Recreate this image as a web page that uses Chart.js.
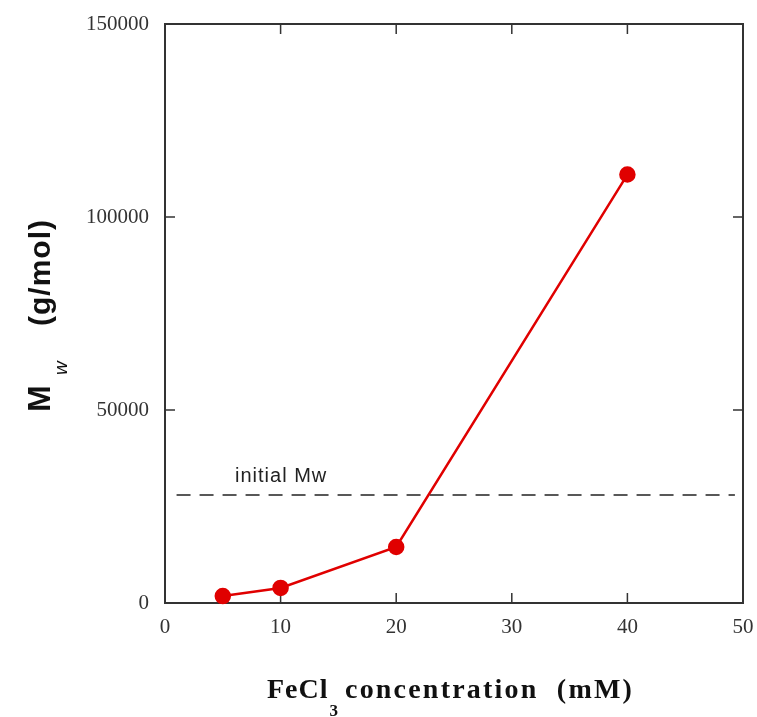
<!DOCTYPE html>
<html>
<head>
<meta charset="utf-8">
<script src="https://cdn.jsdelivr.net/npm/chart.js@4.4.1/dist/chart.umd.min.js"></script>
<style>
  html, body { margin: 0; padding: 0; background: #fff; }
  #grafico { display: block; }
</style>
</head>
<body>
<canvas id="grafico" width="757" height="717"></canvas>
<script>
// dados
const concentracao = [5, 10, 20, 40]
const mw = [1800, 3900, 14500, 111000]
const mwInicial = 28000
const faixaInicial = [1, 49.3]
const ticksX = [0, 10, 20, 30, 40, 50]
const ticksY = [0, 50000, 100000, 150000]

const pontos = concentracao.map((c, i) => ({ x: c, y: mw[i] }))
const linhaInicial = faixaInicial.map(x => ({ x: x, y: mwInicial }))

// moldura, marcas internas e titulos com subscrito
const moldura = {
  id: 'moldura',
  beforeDatasetsDraw(chart) {
    const { ctx, chartArea: a, scales } = chart
    ctx.save()
    ctx.strokeStyle = '#333'
    ctx.lineWidth = 2
    ctx.strokeRect(a.left, a.top, a.right - a.left, a.bottom - a.top)
    ctx.lineWidth = 1.5
    ctx.beginPath()
    ticksX.slice(1, -1).forEach(v => {
      const px = scales.x.getPixelForValue(v)
      ctx.moveTo(px, a.bottom); ctx.lineTo(px, a.bottom - 10)
      ctx.moveTo(px, a.top); ctx.lineTo(px, a.top + 10)
    })
    ticksY.slice(1, -1).forEach(v => {
      const py = scales.y.getPixelForValue(v)
      ctx.moveTo(a.left, py); ctx.lineTo(a.left + 10, py)
      ctx.moveTo(a.right, py); ctx.lineTo(a.right - 10, py)
    })
    ctx.stroke()

    // rotulo da linha tracejada
    ctx.fillStyle = '#222'
    ctx.font = '20px "Liberation Sans"'
    ctx.letterSpacing = '1px'
    ctx.textBaseline = 'alphabetic'
    ctx.fillText('initial Mw', 235, 482)
    ctx.restore()
  },
  afterDraw(chart) {
    const ctx = chart.ctx
    ctx.save()
    ctx.fillStyle = '#111'
    ctx.textBaseline = 'alphabetic'

    // titulo do eixo y
    ctx.translate(50, 412)
    ctx.rotate(-Math.PI / 2)
    ctx.font = 'bold 32px "Liberation Sans"'
    ctx.fillText('M', 0, 0)
    ctx.font = 'italic 19px "Liberation Sans"'
    ctx.fillText('w', 37, 17)
    ctx.font = 'bold 30px "Liberation Sans"'
    ctx.letterSpacing = '1px'
    ctx.fillText('(g/mol)', 86, 0)
    ctx.restore()

    // titulo do eixo x
    ctx.save()
    ctx.fillStyle = '#111'
    ctx.textBaseline = 'alphabetic'
    ctx.letterSpacing = '1px'
    ctx.font = 'bold 28px "Liberation Serif"'
    ctx.fillText('FeCl', 267, 698)
    const w = ctx.measureText('FeCl').width
    ctx.font = 'bold 17px "Liberation Serif"'
    ctx.fillText('3', 268 + w, 716)
    ctx.letterSpacing = '2.2px'
    ctx.font = 'bold 28px "Liberation Serif"'
    ctx.fillText('concentration  (mM)', 345, 698)
    ctx.restore()
  }
}

const ctx = document.getElementById('grafico')
let grafico = new Chart(ctx, {
  type: 'scatter',
  data: {
    datasets: [{
      label: 'Mw',
      data: pontos,
      showLine: true,
      borderColor: '#e00000',
      backgroundColor: '#e00000',
      borderWidth: 2.5,
      pointRadius: 7,
      pointHoverRadius: 7,
      clip: false
    }, {
      label: 'initial Mw',
      data: linhaInicial,
      showLine: true,
      borderColor: '#222',
      borderWidth: 1.5,
      borderDash: [14, 9],
      pointRadius: 0
    }]
  },
  plugins: [moldura],
  options: {
    responsive: false,
    animation: false,
    events: [],
    layout: { padding: { top: 24, right: 14, left: 0, bottom: 0 } },
    plugins: {
      legend: { display: false },
      tooltip: { enabled: false }
    },
    scales: {
      x: {
        type: 'linear',
        min: 0,
        max: 50,
        afterFit: s => { s.height = 114; s.paddingLeft = 0; s.paddingRight = 0 },
        afterBuildTicks: s => { s.ticks = ticksX.map(v => ({ value: v })) },
        grid: { display: false, drawTicks: false },
        border: { display: false },
        ticks: {
          padding: 12,
          color: '#333',
          font: { family: '"Liberation Serif"', size: 21 },
          callback: v => String(v)
        }
      },
      y: {
        type: 'linear',
        min: 0,
        max: 150000,
        afterFit: s => { s.width = 165; s.paddingTop = 0; s.paddingBottom = 0 },
        afterBuildTicks: s => { s.ticks = ticksY.map(v => ({ value: v })) },
        grid: { display: false, drawTicks: false },
        border: { display: false },
        ticks: {
          padding: 16,
          color: '#333',
          font: { family: '"Liberation Serif"', size: 21 },
          callback: v => String(v)
        }
      }
    }
  }
})
</script>
</body>
</html>
